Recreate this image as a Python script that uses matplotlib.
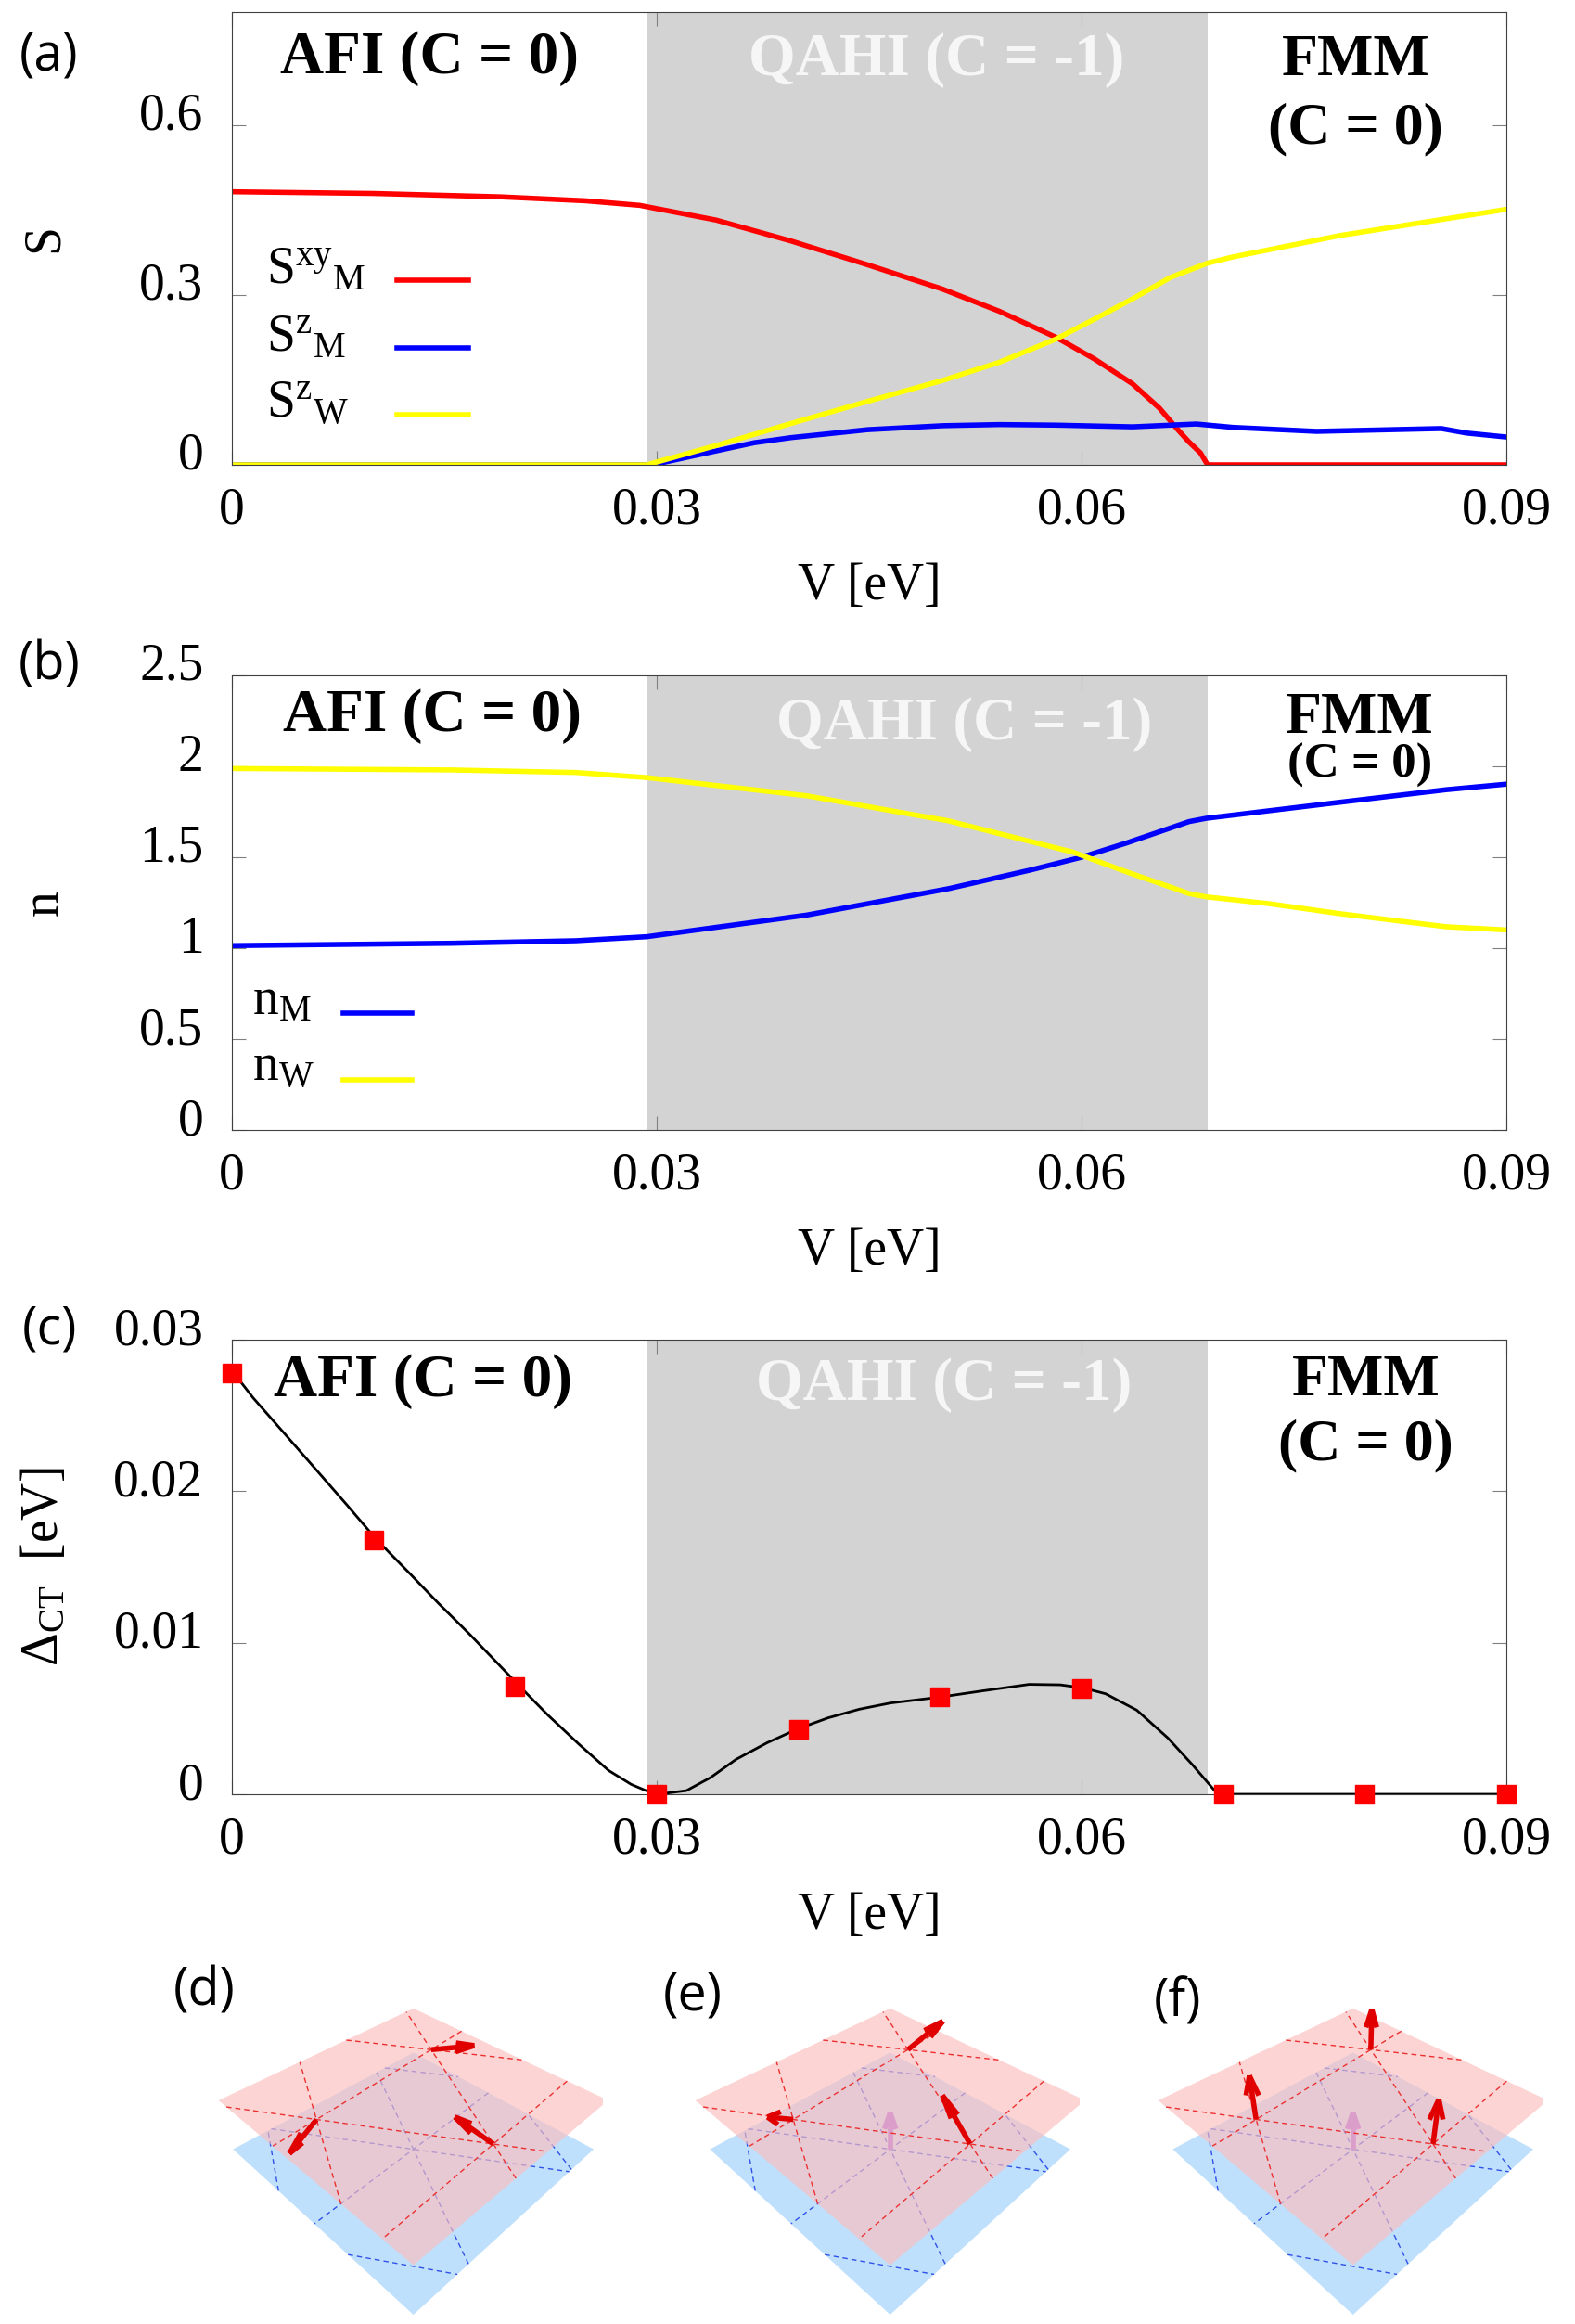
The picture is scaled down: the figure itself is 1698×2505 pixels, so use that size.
import numpy as np
import matplotlib
matplotlib.use('Agg')
import matplotlib.pyplot as plt
from matplotlib.ticker import FuncFormatter
from matplotlib.transforms import ScaledTranslation
from mpl_toolkits.mplot3d.art3d import Poly3DCollection

plt.rcParams['font.family'] = ['Liberation Serif', 'DejaVu Serif']
plt.rcParams['mathtext.fontset'] = 'custom'
plt.rcParams['mathtext.rm'] = 'Liberation Serif'
plt.rcParams['mathtext.it'] = 'Liberation Serif:italic'
plt.rcParams['mathtext.default'] = 'regular'
plt.rcParams['ytick.alignment'] = 'baseline'

# phase boundaries (V in eV)
qahi_lo = 0.0293
qahi_hi = 0.0689
xticks = [0, 0.03, 0.06, 0.09]

# (a) spin moments
v_sxy = [0, 0.01, 0.019, 0.025, 0.0288, 0.0342, 0.0395, 0.0449, 0.0502, 0.0542,
         0.0582, 0.0609, 0.0636, 0.0655, 0.0668, 0.0676, 0.0684, 0.0689, 0.09]
sxy_m = [0.482, 0.479, 0.473, 0.466, 0.458, 0.432, 0.395, 0.353, 0.310, 0.271,
         0.225, 0.187, 0.143, 0.100, 0.062, 0.040, 0.021, 0.0, 0.0]
v_szw = [0, 0.0293, 0.0342, 0.0395, 0.0449, 0.0502, 0.0542, 0.0582, 0.0609,
         0.0636, 0.0663, 0.0689, 0.0707, 0.0783, 0.09]
sz_w = [0, 0, 0.034, 0.073, 0.112, 0.149, 0.181, 0.222, 0.257,
        0.293, 0.331, 0.356, 0.367, 0.405, 0.451]
v_szm = [0, 0.0297, 0.0342, 0.0369, 0.0395, 0.0449, 0.0502, 0.0542, 0.0582,
         0.0636, 0.0681, 0.0707, 0.0766, 0.0854, 0.0872, 0.09]
sz_m = [0, 0, 0.0245, 0.039, 0.048, 0.062, 0.069, 0.071, 0.070,
        0.067, 0.072, 0.066, 0.059, 0.064, 0.056, 0.049]

# (b) occupations
v_nw = [0, 0.0155, 0.0243, 0.0293, 0.0406, 0.0506, 0.0594, 0.0632, 0.0676,
        0.0688, 0.0732, 0.0782, 0.0857, 0.09]
n_w = [1.988, 1.980, 1.966, 1.938, 1.838, 1.700, 1.528, 1.419, 1.300,
       1.282, 1.245, 1.190, 1.118, 1.100]
v_nm = [0, 0.0155, 0.0243, 0.0293, 0.0406, 0.0506, 0.0563, 0.06, 0.0632,
        0.0676, 0.0688, 0.0782, 0.0857, 0.09]
n_m = [1.014, 1.027, 1.041, 1.063, 1.182, 1.327, 1.428, 1.500, 1.579,
       1.696, 1.714, 1.802, 1.871, 1.902]

# (c) charge transfer gap
v_pts = [0, 0.01, 0.02, 0.03, 0.04, 0.05, 0.06, 0.07, 0.08, 0.09]
gap_pts = [0.0278, 0.0168, 0.0071, 0.0, 0.0043, 0.0064, 0.0070, 0.0, 0.0, 0.0]
v_curve = [0, 0.00065, 0.0015, 0.0037, 0.0059, 0.0081, 0.0102, 0.0125, 0.0146,
           0.0168, 0.019, 0.0203, 0.0223, 0.0245, 0.0266, 0.0282, 0.0295, 0.0301,
           0.0321, 0.0338, 0.0356, 0.0378, 0.04, 0.0421, 0.0443, 0.0465, 0.05,
           0.053, 0.0563, 0.0585, 0.0601, 0.0617, 0.0639, 0.0661, 0.0678, 0.0694,
           0.0698, 0.09]
gap_curve = [0.0278, 0.02718, 0.02616, 0.02382, 0.02147, 0.01912, 0.01682,
             0.01463, 0.01259, 0.01055, 0.00841, 0.00714, 0.00524, 0.00331,
             0.00157, 0.00065, 0.00014, 0.0, 0.00024, 0.0011, 0.0023, 0.0034,
             0.00433, 0.00504, 0.00561, 0.00602, 0.00641, 0.00682, 0.00725,
             0.00722, 0.00702, 0.00663, 0.00555, 0.00371, 0.00198, 0.00024,
             0.0, 0.0]

# (d)-(f) sketch: triangular M sites on the upper plane, spin angles
site_r = 0.5
site_ang = [78, 198, 318]
spin_phi = [10, 250, 130]
spin_theta = {'(d)': 90, '(e)': 50, '(f)': 0}
w_spin = {'(d)': 0.0, '(e)': 1.0, '(f)': 1.0}

FS = 40
gfmt = FuncFormatter(lambda v, p: '%g' % round(v, 6))

fig = plt.figure(figsize=(16.98, 25.05), dpi=100)
W, H = 1698.0, 2505.0
ydown = ScaledTranslation(0, -0.05, fig.dpi_scale_trans)


def panel(top, bottom):
    return fig.add_axes([250 / W, (H - bottom) / H, 1374 / W, (bottom - top) / H])


def setup(ax, ylim, yticks, ylabel, afi_y, qahi_x, qahi_y, fmm_x, fmm_y, c_y, c_fs, afi_x):
    ax.axvspan(qahi_lo, qahi_hi, color='#d3d3d3', lw=0, zorder=0)
    ax.set_xlim(0, 0.09)
    ax.set_ylim(*ylim)
    ax.set_xticks(xticks)
    ax.set_yticks(yticks)
    ax.xaxis.set_major_formatter(gfmt)
    ax.yaxis.set_major_formatter(gfmt)
    ax.tick_params(direction='in', length=11, width=0.8, color='#808080',
                   top=True, right=True, labelsize=FS)
    ax.tick_params(axis='x', pad=17)
    ax.tick_params(axis='y', pad=22)
    for lbl in ax.get_yticklabels():
        lbl.set_transform(lbl.get_transform() + ydown)
    for s in ax.spines.values():
        s.set_linewidth(0.8)
        s.set_color('#404040')
    ax.set_xlabel('V [eV]', fontsize=FS)
    ax.xaxis.set_label_coords(0.5, -0.215)
    ax.set_ylabel(ylabel, fontsize=FS)
    ax.yaxis.set_label_coords(-0.128, 0.5)
    kw = dict(transform=ax.transAxes, fontweight='bold', va='baseline')
    ax.text(afi_x, afi_y, 'AFI (C = 0)', fontsize=47, ha='left', **kw)
    ax.text(qahi_x, qahi_y, 'QAHI (C = -1)', fontsize=47, ha='center',
            color='#f6f6f6', **kw)
    ax.text(fmm_x, fmm_y, 'FMM', fontsize=46, ha='center', **kw)
    ax.text(fmm_x, c_y, '(C = 0)', fontsize=c_fs, ha='center', **kw)


def key(ax, labels, colors, xt, x0, x1, ys, dy):
    # gnuplot-like key: text left-aligned, sample line to its right
    for lab, col, y in zip(labels, colors, ys):
        ax.text(xt, y - dy, lab, transform=ax.transAxes, fontsize=FS, va='baseline')
        ax.plot([x0, x1], [y, y], transform=ax.transAxes, color=col, lw=4)


# (a)
ax1 = panel(12.5, 501)
setup(ax1, (0, 0.8), [0, 0.3, 0.6], 'S', 0.863, 0.553, 0.859, 0.882, 0.859, 0.71, 46, 0.038)
ax1.plot(v_sxy, sxy_m, color='#ff0000', lw=4)
ax1.plot(v_szm, sz_m, color='#0000ff', lw=4)
ax1.plot(v_szw, sz_w, color='#ffff00', lw=4)
key(ax1, [r'$S^{xy}{}_{M}$', r'$S^{z}{}_{M}$', r'$S^{z}{}_{W}$'],
    ['#ff0000', '#0000ff', '#ffff00'], 0.027, 0.1295, 0.1856, [0.407, 0.258, 0.110], 0.006)

# (b)
ax2 = panel(728, 1218)
setup(ax2, (0, 2.5), [0, 0.5, 1, 1.5, 2, 2.5], 'n', 0.878, 0.575, 0.859, 0.885, 0.873, 0.776, 38, 0.04)
ax2.plot(v_nm, n_m, color='#0000ff', lw=4)
ax2.plot(v_nw, n_w, color='#ffff00', lw=4)
key(ax2, [r'$n_{M}$', r'$n_{W}$'], ['#0000ff', '#ffff00'],
    0.016, 0.0875, 0.141, [0.257, 0.110], 0.003)

# (c)
ax3 = panel(1444, 1934)
setup(ax3, (0, 0.03), [0, 0.01, 0.02, 0.03], r'$\Delta_{CT}$  [eV]', 0.876, 0.559, 0.867,
      0.89, 0.878, 0.735, 46, 0.033)
ax3.plot(v_curve, gap_curve, color='black', lw=2)
ax3.plot(v_pts, gap_pts, 's', color='#ff0000', ms=15, clip_on=False, zorder=5)

for lab, (x, y) in zip(['(a)', '(b)', '(c)'], [(53, 61), (53, 718), (53, 1434)]):
    fig.text(x / W, 1 - y / H, lab, fontsize=40, family='Open Sans', ha='center', va='center')


# (d)-(f) lattice sketches
def clip(p0, d, half=1.0):
    t = np.linspace(-3, 3, 6001)
    pts = p0[None, :] + t[:, None] * d[None, :]
    ok = np.abs(pts[:, 0]) + np.abs(pts[:, 1]) <= half
    ts = t[ok]
    if len(ts) == 0:
        return None
    return p0 + ts.min() * d, p0 + ts.max() * d


sites = np.array([[site_r * np.cos(np.radians(a)), site_r * np.sin(np.radians(a))] for a in site_ang])
z_bot, z_top = -0.17, 0.17
centers = [440, 954, 1453]
dia = np.array([[0, 1], [1, 0], [0, -1], [-1, 0]], float)

for k, (lab, cx) in enumerate(zip(['(d)', '(e)', '(f)'], centers)):
    ax = fig.add_axes([(cx - 300) / W, -2 / H, 600 / W, 420 / H], projection='3d',
                      computed_zorder=False)
    ax.set_proj_type('persp', focal_length=0.25)
    ax.view_init(elev=40, azim=-90)
    ax.set_xlim(-1, 1)
    ax.set_ylim(-1, 1)
    ax.set_zlim(-0.5, 0.5)
    ax.set_box_aspect((2, 2, 1), zoom=1.4)
    ax.set_axis_off()
    # lower plane (W)
    low = Poly3DCollection([[(x, y, z_bot) for x, y in dia]], facecolor='#bfe0fc',
                           edgecolor='none', zorder=1)
    ax.add_collection3d(low)
    for i in range(3):
        a, b = sites[i], sites[(i + 1) % 3]
        d = (b - a) / np.linalg.norm(b - a)
        nrm = np.array([-d[1], d[0]])
        for off in (-1.5 * site_r, 0.0, 1.5 * site_r):
            seg = clip(off * nrm, d)
            if seg is not None:
                ax.plot([seg[0][0], seg[1][0]], [seg[0][1], seg[1][1]], [z_bot, z_bot],
                        color='#3050e8', lw=1.0, ls=(0, (4, 3)), zorder=2)
    if w_spin[lab] > 0:
        ax.quiver(0, 0, z_bot, 0, 0, 1, length=0.26, arrow_length_ratio=0.45,
                  color='#a060e0', lw=4, zorder=3)
    # upper plane (M)
    up = Poly3DCollection([[(x, y, z_top) for x, y in dia]], facecolor='#fcbebe',
                          alpha=0.65, edgecolor='none', zorder=4)
    ax.add_collection3d(up)
    for i in range(3):
        a, b = sites[i], sites[(i + 1) % 3]
        c = sites[(i + 2) % 3]
        d = (b - a) / np.linalg.norm(b - a)
        for p0 in (a, c):
            seg = clip(p0, d)
            ax.plot([seg[0][0], seg[1][0]], [seg[0][1], seg[1][1]], [z_top, z_top],
                    color='#ec3030', lw=1.0, ls=(0, (4, 3)), zorder=5)
    th = np.radians(spin_theta[lab])
    for (sx, sy), ph in zip(sites, spin_phi):
        p = np.radians(ph)
        ax.quiver(sx, sy, z_top, np.sin(th) * np.cos(p), np.sin(th) * np.sin(p), np.cos(th),
                  length=0.26, arrow_length_ratio=0.45, color='#e00000', lw=4, zorder=6)

for lab, (x, y) in zip(['(d)', '(e)', '(f)'], [(220, 2147), (747, 2152), (1270, 2159)]):
    fig.text(x / W, 1 - y / H, lab, fontsize=40, family='Open Sans', ha='center', va='center')

fig.savefig('out.png', dpi=100)
